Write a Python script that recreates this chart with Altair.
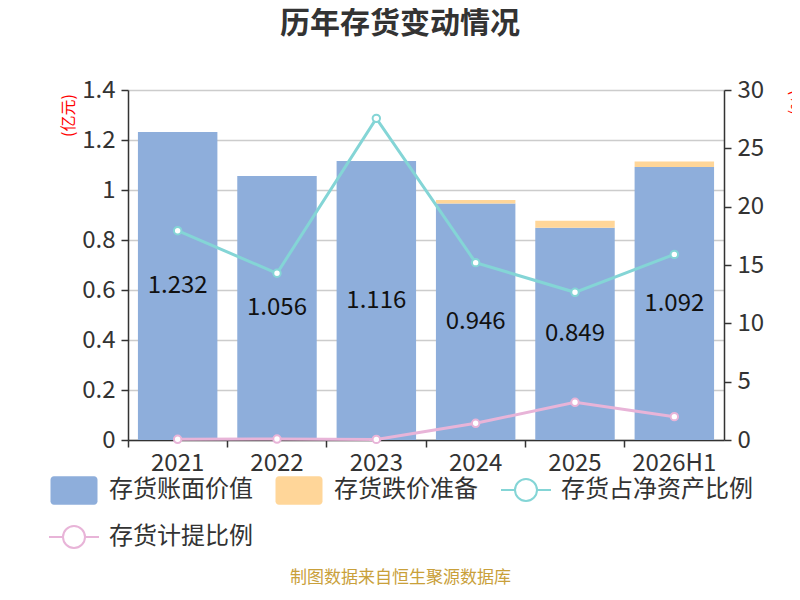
import altair as alt
import pandas as pd

years = ["2021", "2022", "2023", "2024", "2025", "2026H1"]
book_value = [1.232, 1.056, 1.116, 0.946, 0.849, 1.092]
provision = [0.0, 0.0, 0.0, 0.014, 0.028, 0.022]
inv_to_equity_pct = [17.94, 14.29, 27.57, 15.20, 12.66, 15.91]
provision_ratio_pct = [0.06, 0.08, 0.05, 1.43, 3.23, 2.00]

series_names = ["存货账面价值", "存货跌价准备", "存货占净资产比例", "存货计提比例"]
series_colors = ["#8eaedb", "#ffd699", "#84d5d6", "#e8b4d8"]

FONT = "Noto Sans CJK SC"

bar_df = pd.DataFrame({
    "year": years * 2,
    "series": [series_names[0]] * 6 + [series_names[1]] * 6,
    "value": book_value + provision,
    "ord": [0] * 6 + [1] * 6,
})
label_df = pd.DataFrame({"year": years, "book": book_value})
cyan_df = pd.DataFrame({"year": years, "series": [series_names[2]] * 6, "pct": inv_to_equity_pct})
pink_df = pd.DataFrame({"year": years, "series": [series_names[3]] * 6, "pct": provision_ratio_pct})

rect_path = ("M-0.8,-0.57H0.8A0.14,0.14 0 0 1 0.94,-0.43V0.43A0.14,0.14 0 0 1 0.8,0.57"
             "H-0.8A0.14,0.14 0 0 1 -0.94,0.43V-0.43A0.14,0.14 0 0 1 -0.8,-0.57Z")
line_path = ("M-1,0H-0.44M0.44,0H1M0.44,0A0.44,0.44 0 1 1 -0.44,0"
             "A0.44,0.44 0 1 1 0.44,0")

def legend(x, y, shape):
    return alt.Legend(
        title=None,
        orient="none",
        legendX=x,
        legendY=y,
        direction="horizontal",
        columnPadding=20,
        symbolType=shape,
        symbolSize=2500,
        symbolStrokeWidth=2,
        labelFontSize=24,
        labelFont=FONT,
        labelColor="#333333",
        labelOffset=9,
        labelLimit=400,
    )

x_enc = alt.X(
    "year:N",
    sort=years,
    scale=alt.Scale(paddingInner=0, paddingOuter=0),
    axis=alt.Axis(
        title="制图数据来自恒生聚源数据库",
        titleColor="#c9a03a",
        titleFont=FONT,
        titleFontSize=17,
        titleFontWeight="normal",
        titleX=272,
        titleY=137,
        titleAlign="center",
        titleBaseline="middle",
        labelAngle=0,
        labelFontSize=24,
        labelFont=FONT,
        labelColor="#333333",
        labelPadding=4,
        bandPosition=0,
        tickSize=7,
        tickColor="#333333",
        tickWidth=1.5,
        domainColor="#333333",
        domainWidth=1.5,
        grid=False,
    ),
)

yL_axis = alt.Axis(
    title="(亿元)",
    titleColor="#ff0000",
    titleFont=FONT,
    titleFontSize=16,
    titleFontWeight="normal",
    titleAngle=-90,
    titleX=-60,
    titleY=25,
    titleAlign="center",
    titleBaseline="middle",
    values=[0, 0.2, 0.4, 0.6, 0.8, 1.0, 1.2, 1.4],
    format="~g",
    labelFontSize=24,
    labelFont=FONT,
    labelColor="#333333",
    labelPadding=6,
    tickSize=7,
    tickColor="#333333",
    tickWidth=1.5,
    domainColor="#333333",
    domainWidth=1.5,
    grid=True,
    gridColor="#cccccc",
    gridWidth=1.5,
    orient="left",
)

yR_axis = alt.Axis(
    title="(%)",
    titleColor="#ff0000",
    titleFont=FONT,
    titleFontSize=16,
    titleFontWeight="normal",
    titleAngle=90,
    titleX=71,
    titleY=12,
    titleAlign="center",
    titleBaseline="middle",
    values=[0, 5, 10, 15, 20, 25, 30],
    labelFontSize=24,
    labelFont=FONT,
    labelColor="#333333",
    labelPadding=6,
    tickSize=7,
    tickColor="#333333",
    tickWidth=1.5,
    domainColor="#333333",
    domainWidth=1.5,
    grid=False,
    orient="right",
)

yL_scale = alt.Scale(domain=[0, 1.4], nice=False)
yR_scale = alt.Scale(domain=[0, 30], nice=False)

bars = alt.Chart(bar_df).mark_bar(width={"band": 0.8}).encode(
    x=x_enc,
    y=alt.Y("value:Q", stack="zero", scale=yL_scale, axis=yL_axis),
    fill=alt.Fill(
        "series:N",
        scale=alt.Scale(domain=series_names[:2], range=series_colors[:2]),
        legend=legend(-80, 374, rect_path),
    ),
    order=alt.Order("ord:Q"),
)

labels = alt.Chart(label_df).transform_calculate(
    mid="datum.book / 2"
).mark_text(fontSize=24, font=FONT, color="#111111", baseline="middle").encode(
    x=x_enc,
    y=alt.Y("mid:Q", scale=yL_scale, axis=yL_axis),
    text=alt.Text("book:Q", format=".3f"),
)


def line_layer(df, idx, lx, ly):
    sc = alt.Scale(domain=[series_names[idx]], range=[series_colors[idx]])
    lg = legend(lx, ly, line_path)
    ln = alt.Chart(df).mark_line(strokeWidth=3).encode(
        x=x_enc,
        y=alt.Y("pct:Q", scale=yR_scale, axis=yR_axis),
        stroke=alt.Stroke("series:N", scale=sc, legend=lg),
    )
    pt = alt.Chart(df).mark_point(
        filled=True, fill="#ffffff", size=55, strokeWidth=2, opacity=1
    ).encode(
        x=x_enc,
        y=alt.Y("pct:Q", scale=yR_scale, axis=yR_axis),
        stroke=alt.Stroke("series:N", scale=sc, legend=lg),
    )
    return alt.layer(ln, pt)


cyan = line_layer(cyan_df, 2, 372, 374)
pink = line_layer(pink_df, 3, -80, 421)

left = alt.layer(bars, labels)
right = alt.layer(cyan, pink).resolve_scale(stroke="independent").resolve_legend(stroke="independent")

chart = alt.layer(left, right).resolve_scale(
    y="independent", stroke="independent"
).resolve_legend(stroke="independent").properties(
    width=596,
    height=350,
    padding={"left": 120, "top": 82, "right": 68, "bottom": 146},
    autosize=alt.AutoSizeParams(type="none"),
    title=alt.Title(
        "历年存货变动情况",
        fontSize=30,
        fontWeight="bold",
        font=FONT,
        color="#333333",
        anchor="middle",
        frame="group",
        dx=-26,
        offset=39,
    ),
).configure_view(stroke=None)

chart.save("out.html", embed_options={"renderer": "svg", "actions": False})
